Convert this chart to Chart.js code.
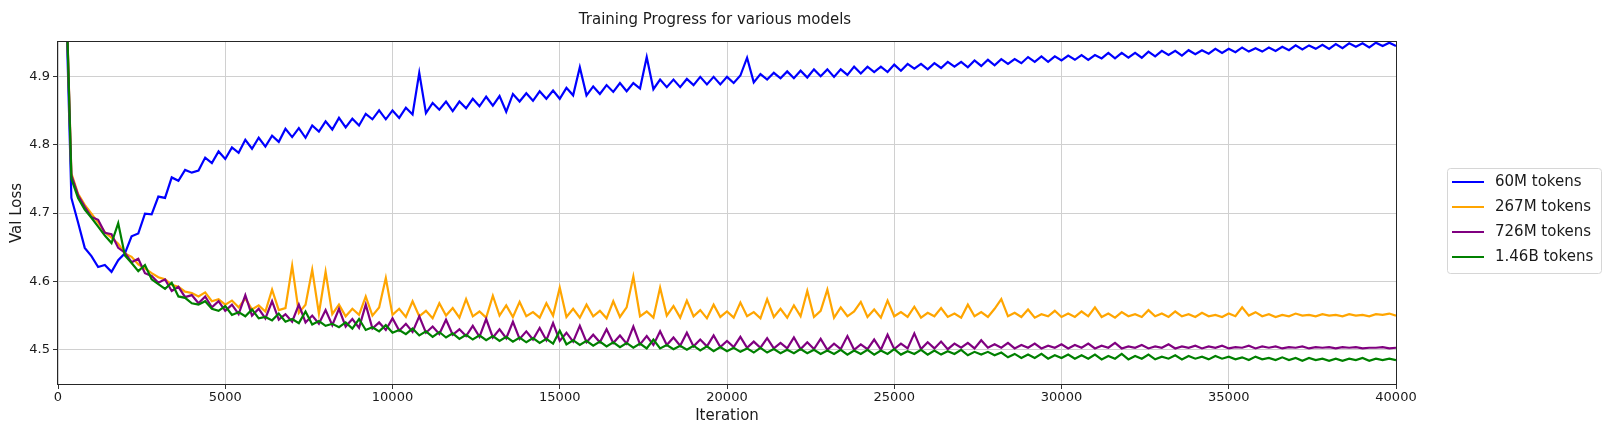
<!DOCTYPE html>
<html>
<head>
<meta charset="utf-8">
<title>Training Progress for various models</title>
<script src="https://cdn.jsdelivr.net/npm/chart.js@4.4.1/dist/chart.umd.min.js"></script>
<style>
  html, body { margin: 0; padding: 0; background: #fff; }
  #wrap { width: 1615px; height: 433px; }
</style>
</head>
<body>
<div id="wrap"><canvas id="myChart" width="1615" height="433"></canvas></div>
<script>
const chartTitle = "Training Progress for various models";
const xTitle = "Iteration";
const yTitle = "Val Loss";

const iterations = [
    200, 400, 600, 800, 1000, 1200, 1400, 1600, 1800, 2000,
    2200, 2400, 2600, 2800, 3000, 3200, 3400, 3600, 3800, 4000,
    4200, 4400, 4600, 4800, 5000, 5200, 5400, 5600, 5800, 6000,
    6200, 6400, 6600, 6800, 7000, 7200, 7400, 7600, 7800, 8000,
    8200, 8400, 8600, 8800, 9000, 9200, 9400, 9600, 9800, 10000,
    10200, 10400, 10600, 10800, 11000, 11200, 11400, 11600, 11800, 12000,
    12200, 12400, 12600, 12800, 13000, 13200, 13400, 13600, 13800, 14000,
    14200, 14400, 14600, 14800, 15000, 15200, 15400, 15600, 15800, 16000,
    16200, 16400, 16600, 16800, 17000, 17200, 17400, 17600, 17800, 18000,
    18200, 18400, 18600, 18800, 19000, 19200, 19400, 19600, 19800, 20000,
    20200, 20400, 20600, 20800, 21000, 21200, 21400, 21600, 21800, 22000,
    22200, 22400, 22600, 22800, 23000, 23200, 23400, 23600, 23800, 24000,
    24200, 24400, 24600, 24800, 25000, 25200, 25400, 25600, 25800, 26000,
    26200, 26400, 26600, 26800, 27000, 27200, 27400, 27600, 27800, 28000,
    28200, 28400, 28600, 28800, 29000, 29200, 29400, 29600, 29800, 30000,
    30200, 30400, 30600, 30800, 31000, 31200, 31400, 31600, 31800, 32000,
    32200, 32400, 32600, 32800, 33000, 33200, 33400, 33600, 33800, 34000,
    34200, 34400, 34600, 34800, 35000, 35200, 35400, 35600, 35800, 36000,
    36200, 36400, 36600, 36800, 37000, 37200, 37400, 37600, 37800, 38000,
    38200, 38400, 38600, 38800, 39000, 39200, 39400, 39600, 39800, 40000
];

const xTicks = [0, 5000, 10000, 15000, 20000, 25000, 30000, 35000, 40000];
const yTicks = [4.5, 4.6, 4.7, 4.8, 4.9];

// 60M tokens
const loss60M = [
    5.08, 4.722, 4.686, 4.649, 4.637, 4.621, 4.624, 4.614, 4.631, 4.641,
    4.666, 4.670, 4.699, 4.698, 4.724, 4.722, 4.752, 4.747, 4.763, 4.759,
    4.762, 4.781, 4.773, 4.790, 4.779, 4.796, 4.788, 4.807, 4.794, 4.810,
    4.797, 4.813, 4.804, 4.823, 4.811, 4.824, 4.810, 4.828, 4.819, 4.834,
    4.822, 4.839, 4.825, 4.838, 4.828, 4.845, 4.837, 4.850, 4.837, 4.850,
    4.839, 4.854, 4.844, 4.905, 4.846, 4.861, 4.851, 4.863, 4.849, 4.863,
    4.853, 4.867, 4.856, 4.870, 4.857, 4.871, 4.848, 4.874, 4.863, 4.875,
    4.864, 4.878, 4.867, 4.879, 4.867, 4.883, 4.872, 4.913, 4.872, 4.885,
    4.874, 4.887, 4.877, 4.890, 4.878, 4.890, 4.882, 4.928, 4.881, 4.895,
    4.884, 4.895, 4.884, 4.896, 4.887, 4.899, 4.888, 4.899, 4.888, 4.899,
    4.890, 4.901, 4.927, 4.891, 4.903, 4.895, 4.905, 4.897, 4.907, 4.897,
    4.908, 4.898, 4.910, 4.900, 4.910, 4.899, 4.910, 4.902, 4.914, 4.904,
    4.914, 4.906, 4.914, 4.906, 4.917, 4.908, 4.918, 4.911, 4.918, 4.910,
    4.919, 4.912, 4.921, 4.914, 4.921, 4.913, 4.923, 4.915, 4.924, 4.916,
    4.925, 4.918, 4.925, 4.919, 4.928, 4.921, 4.929, 4.921, 4.929, 4.923,
    4.930, 4.924, 4.931, 4.924, 4.931, 4.926, 4.934, 4.926, 4.934, 4.927,
    4.934, 4.927, 4.936, 4.929, 4.937, 4.931, 4.937, 4.930, 4.938, 4.932,
    4.938, 4.933, 4.940, 4.934, 4.940, 4.935, 4.942, 4.936, 4.941, 4.936,
    4.942, 4.937, 4.943, 4.938, 4.945, 4.939, 4.945, 4.940, 4.946, 4.940,
    4.947, 4.941, 4.948, 4.943, 4.948, 4.942, 4.949, 4.944, 4.949, 4.944
];

// 267M tokens
const loss267M = [
    5.10, 4.758, 4.728, 4.712, 4.699, 4.686, 4.672, 4.664, 4.655, 4.641,
    4.636, 4.625, 4.619, 4.612, 4.606, 4.603, 4.595, 4.592, 4.585, 4.583,
    4.578, 4.584, 4.571, 4.574, 4.566, 4.572, 4.562, 4.575, 4.559, 4.565,
    4.556, 4.588, 4.558, 4.561, 4.623, 4.554, 4.566, 4.617, 4.553, 4.614,
    4.552, 4.566, 4.549, 4.560, 4.551, 4.578, 4.550, 4.562, 4.605, 4.551,
    4.560, 4.548, 4.571, 4.549, 4.557, 4.546, 4.568, 4.550, 4.561, 4.547,
    4.574, 4.549, 4.556, 4.547, 4.579, 4.550, 4.565, 4.548, 4.570, 4.549,
    4.555, 4.547, 4.568, 4.550, 4.591, 4.548, 4.560, 4.547, 4.566, 4.549,
    4.557, 4.546, 4.571, 4.548, 4.562, 4.607, 4.549, 4.556, 4.547, 4.591,
    4.550, 4.564, 4.547, 4.572, 4.549, 4.558, 4.546, 4.566, 4.548, 4.556,
    4.547, 4.569, 4.549, 4.555, 4.546, 4.574, 4.548, 4.560, 4.547, 4.565,
    4.549, 4.586, 4.548, 4.557, 4.588, 4.547, 4.562, 4.549, 4.556, 4.570,
    4.548, 4.559, 4.547, 4.572, 4.549, 4.555, 4.548, 4.563, 4.547, 4.554,
    4.549, 4.561, 4.548, 4.553, 4.547, 4.566, 4.549, 4.555, 4.548, 4.560,
    4.574, 4.549, 4.554, 4.548, 4.559, 4.547, 4.552, 4.549, 4.557, 4.548,
    4.553, 4.548, 4.556, 4.549, 4.562, 4.548, 4.553, 4.547, 4.555, 4.549,
    4.552, 4.548, 4.558, 4.549, 4.553, 4.548, 4.556, 4.549, 4.552, 4.548,
    4.554, 4.549, 4.551, 4.548, 4.553, 4.549, 4.562, 4.550, 4.555, 4.549,
    4.552, 4.548, 4.551, 4.549, 4.553, 4.550, 4.551, 4.549, 4.552, 4.550,
    4.551, 4.549, 4.552, 4.550, 4.551, 4.549, 4.552, 4.551, 4.553, 4.550
];

// 726M tokens
const loss726M = [
    5.10, 4.755, 4.726, 4.709, 4.694, 4.690, 4.671, 4.669, 4.649, 4.642,
    4.628, 4.633, 4.612, 4.608, 4.598, 4.603, 4.586, 4.592, 4.577, 4.580,
    4.568, 4.578, 4.562, 4.571, 4.557, 4.566, 4.552, 4.580, 4.550, 4.560,
    4.546, 4.571, 4.544, 4.552, 4.541, 4.566, 4.540, 4.550, 4.538, 4.558,
    4.536, 4.560, 4.534, 4.545, 4.532, 4.566, 4.531, 4.540, 4.529, 4.546,
    4.528, 4.538, 4.526, 4.549, 4.525, 4.534, 4.523, 4.544, 4.522, 4.530,
    4.520, 4.535, 4.519, 4.545, 4.518, 4.530, 4.517, 4.541, 4.516, 4.527,
    4.515, 4.532, 4.514, 4.539, 4.513, 4.525, 4.512, 4.535, 4.511, 4.522,
    4.511, 4.530, 4.510, 4.521, 4.509, 4.534, 4.508, 4.520, 4.507, 4.527,
    4.507, 4.518, 4.506, 4.525, 4.505, 4.515, 4.505, 4.521, 4.504, 4.513,
    4.504, 4.519, 4.503, 4.512, 4.503, 4.517, 4.502, 4.510, 4.502, 4.518,
    4.501, 4.511, 4.501, 4.516, 4.500, 4.509, 4.501, 4.520, 4.500, 4.508,
    4.501, 4.515, 4.500, 4.522, 4.501, 4.509, 4.502, 4.524, 4.501, 4.511,
    4.502, 4.512, 4.501, 4.509, 4.503, 4.510, 4.502, 4.514, 4.503, 4.508,
    4.503, 4.510, 4.502, 4.507, 4.503, 4.509, 4.502, 4.506, 4.503, 4.508,
    4.502, 4.507, 4.503, 4.509, 4.502, 4.506, 4.503, 4.510, 4.502, 4.505,
    4.503, 4.507, 4.502, 4.505, 4.503, 4.508, 4.502, 4.505, 4.503, 4.506,
    4.502, 4.505, 4.503, 4.506, 4.502, 4.504, 4.503, 4.506, 4.502, 4.505,
    4.503, 4.505, 4.502, 4.504, 4.503, 4.505, 4.502, 4.504, 4.503, 4.504,
    4.502, 4.504, 4.503, 4.504, 4.502, 4.503, 4.503, 4.504, 4.502, 4.503
];

// 1.46B tokens
const loss146B = [
    5.10, 4.750, 4.722, 4.705, 4.693, 4.680, 4.667, 4.656, 4.685, 4.638,
    4.627, 4.615, 4.624, 4.603, 4.596, 4.589, 4.598, 4.578, 4.576, 4.568,
    4.566, 4.571, 4.560, 4.557, 4.564, 4.551, 4.555, 4.549, 4.559, 4.546,
    4.548, 4.543, 4.553, 4.541, 4.545, 4.539, 4.556, 4.537, 4.542, 4.535,
    4.538, 4.533, 4.540, 4.531, 4.545, 4.529, 4.533, 4.527, 4.536, 4.525,
    4.529, 4.523, 4.531, 4.521, 4.527, 4.519, 4.526, 4.518, 4.524, 4.516,
    4.522, 4.515, 4.521, 4.514, 4.520, 4.513, 4.519, 4.512, 4.518, 4.511,
    4.517, 4.510, 4.516, 4.509, 4.528, 4.508, 4.514, 4.507, 4.513, 4.506,
    4.512, 4.505, 4.511, 4.504, 4.510, 4.503, 4.509, 4.502, 4.515, 4.502,
    4.507, 4.501, 4.506, 4.500, 4.506, 4.499, 4.505, 4.498, 4.504, 4.498,
    4.503, 4.497, 4.502, 4.496, 4.503, 4.496, 4.501, 4.495, 4.500, 4.495,
    4.501, 4.495, 4.500, 4.494, 4.499, 4.494, 4.500, 4.493, 4.499, 4.494,
    4.500, 4.493, 4.499, 4.494, 4.501, 4.493, 4.498, 4.494, 4.500, 4.493,
    4.499, 4.493, 4.498, 4.494, 4.500, 4.492, 4.497, 4.493, 4.497, 4.492,
    4.496, 4.489, 4.494, 4.488, 4.493, 4.488, 4.494, 4.487, 4.492, 4.488,
    4.493, 4.487, 4.492, 4.487, 4.493, 4.486, 4.491, 4.487, 4.494, 4.486,
    4.491, 4.487, 4.493, 4.486, 4.490, 4.487, 4.492, 4.486, 4.491, 4.487,
    4.490, 4.486, 4.491, 4.487, 4.490, 4.486, 4.489, 4.485, 4.490, 4.486,
    4.488, 4.485, 4.489, 4.485, 4.488, 4.484, 4.488, 4.485, 4.487, 4.484,
    4.487, 4.484, 4.487, 4.485, 4.488, 4.484, 4.487, 4.485, 4.487, 4.485
];

const seriesLabels = ["60M tokens", "267M tokens", "726M tokens", "1.46B tokens"];
const seriesColors = ["#0000ff", "#ffa500", "#800080", "#008000"];
const seriesValues = [loss60M, loss267M, loss726M, loss146B];

const FONT = '"DejaVu Sans", Verdana, sans-serif';
const TEXT = "#1a1a1a";

// frame, title and a matplotlib style legend box
const extras = {
    id: "extras",
    afterDatasetsDraw(chart){
        const ctx = chart.ctx;
        const a = chart.chartArea;
        ctx.save();
        ctx.strokeStyle = "#262626";
        ctx.lineWidth = 1;
        ctx.strokeRect(Math.round(a.left) - 0.5, Math.round(a.top) - 0.5,
            Math.round(a.right - a.left) + 1, Math.round(a.bottom - a.top) + 1);

        ctx.fillStyle = TEXT;
        ctx.font = "15px " + FONT;
        ctx.textAlign = "center";
        ctx.textBaseline = "middle";
        ctx.fillText(chartTitle, (a.left + a.right) / 2 - 12, 20);

        const lx = a.right + 51, ly = 168, lw = 154, lh = 105;
        ctx.beginPath();
        ctx.roundRect(lx + 0.5, ly + 0.5, lw, lh, 3);
        ctx.fillStyle = "rgba(255,255,255,0.8)";
        ctx.fill();
        ctx.strokeStyle = "#d6d6d6";
        ctx.stroke();

        ctx.textAlign = "left";
        ctx.font = "15px " + FONT;
        seriesLabels.forEach(function(label, i){
            const y = ly + 14 + i * 25;
            ctx.strokeStyle = seriesColors[i];
            ctx.lineWidth = 2;
            ctx.beginPath();
            ctx.moveTo(lx + 5, y);
            ctx.lineTo(lx + 37, y);
            ctx.stroke();
            ctx.fillStyle = TEXT;
            ctx.fillText(label, lx + 48, y);
        });
        ctx.restore();
    }
};

document.addEventListener("DOMContentLoaded", function(){
    const datasets = seriesValues.map(function(values, i){
        return {
            label: seriesLabels[i],
            data: iterations.map(function(it, j){ return {x: it, y: values[j]}; }),
            borderColor: seriesColors[i],
            backgroundColor: seriesColors[i],
            borderWidth: 2.2,
            pointRadius: 0,
            tension: 0,
            fill: false,
            clip: 0,
            order: seriesValues.length - i
        };
    });

    const ctx = document.getElementById("myChart").getContext("2d");
    myChart = new Chart(ctx, {
        type: "line",
        data: { datasets: datasets },
        plugins: [extras],
        options: {
            responsive: false,
            devicePixelRatio: 1,
            animation: false,
            layout: { padding: { left: 0, right: 219, top: 42, bottom: 0 } },
            plugins: {
                legend: { display: false },
                title: { display: false },
                tooltip: { enabled: false }
            },
            scales: {
                x: {
                    type: "linear",
                    min: 0,
                    max: 40000,
                    afterBuildTicks: function(scale){
                        scale.ticks = xTicks.map(function(v){ return {value: v}; });
                    },
                    afterFit: function(scale){ scale.height = 49; },
                    ticks: {
                        color: TEXT,
                        font: { family: FONT, size: 13 },
                        padding: 1,
                        maxRotation: 0,
                        callback: function(v){ return String(v); }
                    },
                    grid: { color: "#d0d0d0", lineWidth: 1, tickLength: 5, tickColor: "#333333" },
                    border: { display: false },
                    title: {
                        display: true,
                        text: xTitle,
                        color: TEXT,
                        font: { family: FONT, size: 15 },
                        padding: { top: 0, bottom: 8 }
                    }
                },
                y: {
                    type: "linear",
                    min: 4.45,
                    max: 4.95,
                    afterBuildTicks: function(scale){
                        scale.ticks = yTicks.map(function(v){ return {value: v}; });
                    },
                    afterFit: function(scale){ scale.width = 58; },
                    ticks: {
                        color: TEXT,
                        font: { family: FONT, size: 13 },
                        padding: 3,
                        callback: function(v){ return v.toFixed(1); }
                    },
                    grid: { color: "#d0d0d0", lineWidth: 1, tickLength: 5, tickColor: "#333333" },
                    border: { display: false },
                    title: {
                        display: true,
                        text: yTitle,
                        color: TEXT,
                        font: { family: FONT, size: 15 },
                        padding: { top: 8, bottom: 0 }
                    }
                }
            }
        }
    });
});
</script>
</body>
</html>
